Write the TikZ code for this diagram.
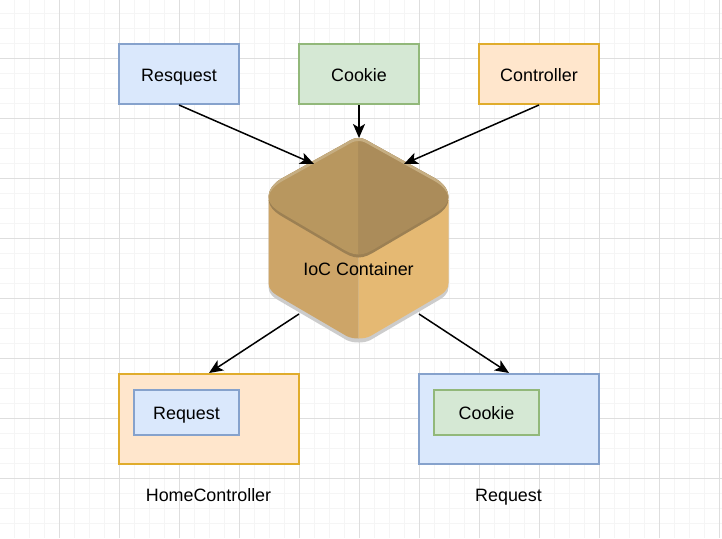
\documentclass[tikz,border=0pt]{standalone}
\usepackage{fontspec}
\setmainfont{Liberation Sans}
\usetikzlibrary{arrows.meta}
\definecolor{gridmajor}{HTML}{DEDEDE}
\definecolor{gridminor}{HTML}{F5F5F5}
\definecolor{bluefill}{HTML}{DAE8FC}
\definecolor{blueline}{HTML}{86A2CC}
\definecolor{greenfill}{HTML}{D5E8D4}
\definecolor{greenline}{HTML}{92B87A}
\definecolor{orangefill}{HTML}{FFE6CC}
\definecolor{orangeline}{HTML}{E0AC2C}
\definecolor{sideleft}{HTML}{CDA568}
\definecolor{sideright}{HTML}{E5B973}
\definecolor{topleft}{HTML}{B8975F}
\definecolor{topright}{HTML}{AB8C5A}
\definecolor{toprim}{HTML}{C6AE82}
\definecolor{toprimlow}{HTML}{9C8053}
\definecolor{hexshadow}{HTML}{CCCCCC}
\tikzset{
    box/.style={draw, line width=2pt, font=\fontsize{17.9}{20}\selectfont,
        text=black, inner sep=0pt, text height=14pt, text depth=0pt},
    bluebox/.style={box, fill=bluefill, draw=blueline},
    greenbox/.style={box, fill=greenfill, draw=greenline},
    orangebox/.style={box, fill=orangefill, draw=orangeline},
    caption/.style={font=\fontsize{17.9}{20}\selectfont, inner sep=0pt,
        text height=14pt, text depth=0pt},
    link/.style={line width=1.5pt, -{Stealth[length=14pt,width=12pt,inset=3.5pt]}}
}
\begin{document}
\begin{tikzpicture}[x=1pt,y=-1pt]
    \useasboundingbox (0,0) rectangle (722,538);
    \fill[white] (0,0) rectangle (722,538);
    % grid
    \foreach \x in {14,29,...,719} \draw[gridminor, line width=1pt] (\x,0) -- (\x,538);
    \foreach \y in {13,28,...,535} \draw[gridminor, line width=1pt] (0,\y) -- (722,\y);
    \foreach \x in {59,119,...,719} \draw[gridmajor, line width=1pt] (\x,0) -- (\x,538);
    \foreach \y in {58,118,...,535} \draw[gridmajor, line width=1pt] (0,\y) -- (722,\y);
    % container
    \begin{scope}[xshift=-0.5pt]
    \fill[hexshadow] (269,202) -- (269,287) .. controls (269,294) and (274,297.5) .. (282,302)
        -- (347,340) .. controls (351,342) and (355,342.5) .. (359,342.5)
        .. controls (363,342.5) and (367,342) .. (371,340)
        -- (436,302) .. controls (444,297.5) and (449,294) .. (449,287) -- (449,202) -- cycle;
    \fill[sideleft] (359,200) -- (269,200) -- (269,283) .. controls (269,290) and (274,293.5) .. (282,298)
        -- (347,336) .. controls (351,338) and (355,338.5) .. (359,338.5) -- cycle;
    \fill[sideright] (359,200) -- (449,200) -- (449,283) .. controls (449,290) and (444,293.5) .. (436,298)
        -- (371,336) .. controls (367,338) and (363,338.5) .. (359,338.5) -- cycle;
    \fill[toprimlow] (359,138) .. controls (354,138) and (351,140) .. (346,143)
        -- (283,178) .. controls (274,183) and (269,190) .. (269,198)
        .. controls (269,206) and (274,211.5) .. (283,216.7)
        -- (341,250.7) .. controls (348,255) and (353,257.5) .. (359,257.5)
        .. controls (365,257.5) and (370,255) .. (377,250.7)
        -- (435,216.7) .. controls (444,211.5) and (449,206) .. (449,198)
        .. controls (449,190) and (444,183) .. (435,178)
        -- (372,143) .. controls (367,140) and (364,138) .. (359,138) -- cycle;
    \fill[topleft] (359,138) .. controls (354,138) and (351,140) .. (346,143)
        -- (283,178) .. controls (274,183) and (269,190) .. (269,197)
        .. controls (269,203) and (274,208.5) .. (283,213.7)
        -- (341,247.7) .. controls (348,252) and (353,254.5) .. (359,254.5) -- cycle;
    \fill[topright] (359,138) .. controls (364,138) and (367,140) .. (372,143)
        -- (435,178) .. controls (444,183) and (449,190) .. (449,197)
        .. controls (449,203) and (444,208.5) .. (435,213.7)
        -- (377,247.7) .. controls (370,252) and (365,254.5) .. (359,254.5) -- cycle;
    \fill[toprim] (359,138) .. controls (354,138) and (351,140) .. (346,143)
        -- (283,178) .. controls (274,183) and (269,190) .. (269,197)
        .. controls (270,191) and (275,185.5) .. (283,181)
        -- (346,146) .. controls (351,143) and (354,141) .. (359,141)
        .. controls (364,141) and (367,143) .. (372,146)
        -- (435,181) .. controls (443,185.5) and (448,191) .. (449,197)
        .. controls (449,190) and (444,183) .. (435,178)
        -- (372,143) .. controls (367,140) and (364,138) .. (359,138) -- cycle;
    \end{scope}
    \draw (358.5,268) node(ioc) [caption] {IoC Container};
    \coordinate (iocNW) at (314,164);
    \coordinate (iocN) at (359,138);
    \coordinate (iocNE) at (404,164);
    \coordinate (iocSW) at (299,314);
    \coordinate (iocSE) at (419,314);
    % top row
    \draw (179,74) node(resquest) [bluebox, minimum width=120pt, minimum height=60pt] {Resquest};
    \draw (359,74) node(cookie) [greenbox, minimum width=120pt, minimum height=60pt] {Cookie};
    \draw (539,74) node(controller) [orangebox, minimum width=120pt, minimum height=60pt] {Controller};
    % bottom row
    \draw (209,419) node(home) [orangebox, minimum width=180pt, minimum height=90pt] {};
    \draw (186.5,412) node(homerequest) [bluebox, minimum width=105pt, minimum height=45pt] {Request};
    \draw (509,419) node(request) [bluebox, minimum width=180pt, minimum height=90pt] {};
    \draw (486.5,412) node(requestcookie) [greenbox, minimum width=105pt, minimum height=45pt] {Cookie};
    \draw (208.5,494) node(homelabel) [caption] {HomeController};
    \draw (508.5,494) node(requestlabel) [caption] {Request};
    % links
    \draw[link] (resquest.south) -- (iocNW);
    \draw[link] (cookie.south) -- (iocN);
    \draw[link] (controller.south) -- (iocNE);
    \draw[link] (iocSW) -- (home.north);
    \draw[link] (iocSE) -- (request.north);
\end{tikzpicture}
\end{document}
